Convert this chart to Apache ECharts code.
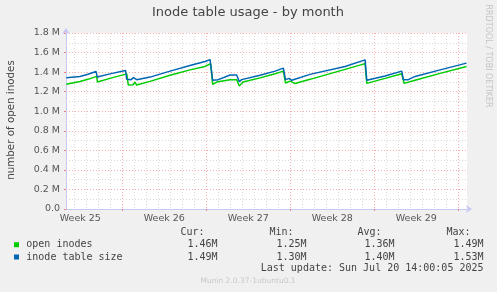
<!DOCTYPE html>
<html>
<head>
<meta charset="utf-8">
<script src="https://cdn.jsdelivr.net/npm/echarts@6/dist/echarts.min.js"></script>
<style>
html,body{margin:0;padding:0;background:#f0f0f0;}
#c{width:497px;height:292px;}
</style>
</head>
<body>
<div id="c"></div>
<script>
// x values: days relative to Sun 22 Jun 00:00
const openX = [-4.67,-3.53,-2.86,-2.13,-2.07,-1.03,0.37,0.5,0.89,1.06,1.2,2.31,3.98,5.64,6.89,7.37,7.53,7.87,8.98,9.14,9.53,9.75,10.06,11.48,12.73,13.42,13.6,13.98,14.39,15.64,18.56,20.23,20.37,21.89,23.28,23.48,24.39,26.48,28.68];
const openY = [1.275,1.305,1.326,1.356,1.298,1.336,1.382,1.268,1.27,1.298,1.268,1.305,1.367,1.423,1.458,1.485,1.275,1.298,1.323,1.333,1.323,1.258,1.298,1.341,1.384,1.41,1.288,1.308,1.283,1.326,1.428,1.487,1.285,1.336,1.384,1.285,1.316,1.387,1.458];
const sizeX = [-4.67,-4.57,-3.53,-2.86,-2.19,-2.08,-1.03,0.27,0.37,0.73,0.93,1.06,1.2,2.31,3.98,5.64,6.89,7.31,7.53,8.0,8.98,9.14,9.53,9.75,9.95,11.48,12.73,13.42,13.6,13.89,14.12,15.64,18.56,20.23,20.37,21.89,23.28,23.42,23.56,23.83,24.39,26.48,28.68];
const sizeY = [1.343,1.323,1.356,1.378,1.407,1.349,1.382,1.417,1.326,1.323,1.343,1.340,1.323,1.349,1.41,1.468,1.509,1.528,1.316,1.323,1.37,1.364,1.37,1.302,1.323,1.367,1.41,1.441,1.323,1.336,1.316,1.377,1.458,1.525,1.316,1.361,1.41,1.323,1.333,1.323,1.356,1.423,1.492];

const weekTicks = [0,7,14,21,28];
const dayTicks = [-4,-3,-2,-1,1,2,3,4,5,6,8,9,10,11,12,13,15,16,17,18,19,20,22,23,24,25,26,27];
const weekLabelPos = [-3.5,3.5,10.5,17.5,24.5];
const weekLabels = ['Week 25','Week 26','Week 27','Week 28','Week 29'];
const yMinor = [0.1e6,0.3e6,0.5e6,0.7e6,0.9e6,1.1e6,1.3e6,1.5e6,1.7e6];

const seriesNames = ['open inodes','inode table size'];
const seriesColors = ['#00cc00','#0066b3'];
const statCur = ['1.46M','1.49M'];
const statMin = ['1.25M','1.30M'];
const statAvg = ['1.36M','1.40M'];
const statMax = ['1.49M','1.53M'];

const X_MIN = -4.69, X_MAX = 28.72;
const zip = (xs, ys) => xs.map((x, i) => [x, ys[i] * 1e6]);

const SANS = 'DejaVu Sans';
const AXIS_COL = '#c8c8f4';
const MINOR_COL = '#d8d8d8';
const MAJOR_COL = 'rgba(240,120,120,0.6)';

const chart = echarts.init(document.getElementById('c'), null, {renderer: 'canvas'});

const graphics = [
  {type:'text', x:248, y:13, style:{text:'Inode table usage - by month', font:'13px "DejaVu Sans"', fill:'#444', align:'center', verticalAlign:'middle'}},
  {type:'text', x:11.5, y:120, rotation:Math.PI/2, style:{text:'number of open inodes', font:'10.3px "DejaVu Sans"', fill:'#444', align:'center', verticalAlign:'middle'}},
  {type:'text', x:488.5, y:56, rotation:-Math.PI/2, style:{text:'RRDTOOL / TOBI OETIKER', font:'8px "DejaVu Sans"', fill:'#c4c4c4', align:'center', verticalAlign:'middle'}},
  {type:'text', x:204.5, y:232.5, style:{text:'Cur:', font:'10px "DejaVu Sans Mono"', fill:'#444', align:'right', verticalAlign:'middle'}},
  {type:'text', x:293.5, y:232.5, style:{text:'Min:', font:'10px "DejaVu Sans Mono"', fill:'#444', align:'right', verticalAlign:'middle'}},
  {type:'text', x:381.5, y:232.5, style:{text:'Avg:', font:'10px "DejaVu Sans Mono"', fill:'#444', align:'right', verticalAlign:'middle'}},
  {type:'text', x:470.5, y:232.5, style:{text:'Max:', font:'10px "DejaVu Sans Mono"', fill:'#444', align:'right', verticalAlign:'middle'}},
  {type:'text', x:483.5, y:268.5, style:{text:'Last update: Sun Jul 20 14:00:05 2025', font:'10px "DejaVu Sans Mono"', fill:'#444', align:'right', verticalAlign:'middle'}},
  {type:'text', x:248, y:281, style:{text:'Munin 2.0.37-1ubuntu0.1', font:'7.5px "DejaVu Sans"', fill:'#c8c8c8', align:'center', verticalAlign:'middle'}}
];
const rowY = [244.7, 257];
const colRight = [217.5, 306.5, 394.5, 483.5];
seriesNames.forEach((n, i) => {
  graphics.push({type:'rect', shape:{x:14, y:rowY[i]-2.5, width:5, height:5}, style:{fill:seriesColors[i]}});
  graphics.push({type:'text', x:26.3, y:rowY[i], style:{text:n, font:'10px "DejaVu Sans Mono"', fill:'#444', align:'left', verticalAlign:'middle'}});
  [statCur, statMin, statAvg, statMax].forEach((arr, j) => {
    graphics.push({type:'text', x:colRight[j], y:rowY[i], style:{text:arr[i], font:'10px "DejaVu Sans Mono"', fill:'#444', align:'right', verticalAlign:'middle'}});
  });
});

chart.setOption({
  animation: false,
  backgroundColor: '#f0f0f0',
  grid: {left:66, right:30, top:33, bottom:83, show:true, backgroundColor:'#ffffff', borderWidth:0},
  xAxis: [
    { // minor day grid
      type:'value', position:'bottom', min:X_MIN, max:X_MAX, gridIndex:0,
      axisLine:{show:false}, axisLabel:{show:false},
      axisTick:{show:false, customValues:dayTicks},
      splitLine:{show:true, lineStyle:{color:MINOR_COL, width:1, type:[1,2]}}
    },
    { // major week grid + labels
      type:'value', position:'bottom', min:X_MIN, max:X_MAX, gridIndex:0,
      axisLine:{show:true, onZero:false, lineStyle:{color:AXIS_COL, width:1}, symbol:['none','arrow'], symbolSize:[6,6], symbolOffset:[0,5]},
      axisTick:{show:true, length:2, customValues:weekTicks, lineStyle:{color:'#f08080'}},
      axisLabel:{show:true, customValues:weekLabelPos, margin:5, color:'#555', fontFamily:SANS, fontSize:9.5,
        formatter:(v)=>{const i = weekLabelPos.findIndex(p=>Math.abs(p-v)<1e-6); return i>=0?weekLabels[i]:'';}},
      splitLine:{show:true, lineStyle:{color:MAJOR_COL, width:1, type:[1,2]}}
    }
  ],
  yAxis: [
    {
      type:'value', position:'left', min:0, max:1.8e6, gridIndex:0,
      axisLine:{show:false}, axisLabel:{show:false},
      axisTick:{show:false, customValues:yMinor},
      splitLine:{show:true, lineStyle:{color:MINOR_COL, width:1, type:[1,2]}}
    },
    {
      type:'value', position:'left', min:0, max:1.8e6, interval:0.2e6, gridIndex:0,
      axisLine:{show:true, onZero:false, lineStyle:{color:AXIS_COL, width:1}, symbol:['none','arrow'], symbolSize:[6,6], symbolOffset:[0,5]},
      axisTick:{show:true, length:2, lineStyle:{color:'#f08080'}},
      axisLabel:{show:true, margin:6, color:'#555', fontFamily:SANS, fontSize:9.5,
        formatter:(v)=> v===0 ? '0.0' : (v/1e6).toFixed(1)+' M'},
      splitLine:{show:true, lineStyle:{color:MAJOR_COL, width:1, type:[1,2]}}
    }
  ],
  series: [
    {name:seriesNames[0], type:'line', xAxisIndex:1, yAxisIndex:1, data:zip(openX, openY), showSymbol:false, symbol:'none',
      lineStyle:{color:seriesColors[0], width:1.5}, z:3},
    {name:seriesNames[1], type:'line', xAxisIndex:1, yAxisIndex:1, data:zip(sizeX, sizeY), showSymbol:false, symbol:'none',
      lineStyle:{color:seriesColors[1], width:1.5}, z:4}
  ],
  graphic: graphics
});
</script>
</body>
</html>
